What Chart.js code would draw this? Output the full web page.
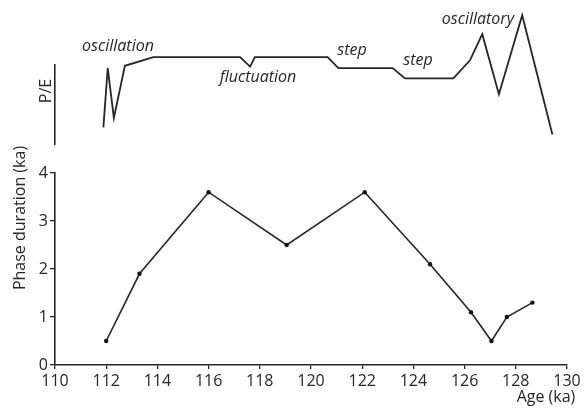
<!DOCTYPE html>
<html>
<head>
<meta charset="utf-8">
<script src="https://cdn.jsdelivr.net/npm/chart.js@4/dist/chart.umd.min.js"></script>
<style>
    html, body { margin: 0; padding: 0; background: #fff; }
    #wrap { position: relative; width: 584px; height: 417px; }
    #wrap canvas { position: absolute; left: 0; top: 0; }
</style>
</head>
<body>
<div id="wrap">
    <canvas id="bottomChart" width="584" height="417"></canvas>
    <canvas id="topChart" width="584" height="417"></canvas>
</div>
<script>
"use strict"

// == data
// lower panel: phase duration per age
const ages = [112.0, 113.3, 116.0, 119.05, 122.1, 124.65, 126.25, 127.05, 127.65, 128.65]
const durations = [0.5, 1.9, 3.6, 2.5, 3.6, 2.1, 1.1, 0.5, 1.0, 1.3]
const ageTicks = [110, 112, 114, 116, 118, 120, 122, 124, 126, 128, 130]
const durationTicks = [0, 1, 2, 3, 4]

// upper panel: P/E curve (arbitrary units, 0 - 10 is the drawn axis)
const peAges = [111.89, 112.06, 112.3, 112.73, 113.84, 117.23, 117.62, 117.81, 120.65,
                121.07, 123.19, 123.67, 125.56, 126.21, 126.69, 127.34, 128.25, 129.43]
const peValues = [2.1, 9.6, 3.3, 9.9, 11.0, 11.0, 9.8, 11.0, 11.0,
                  9.6, 9.6, 8.3, 8.3, 10.6, 13.9, 6.3, 16.3, 1.2]

// labels written along the P/E curve
const noteText = ["oscillation", "fluctuation", "step", "step", "oscillatory"]
const noteAge = [112.46, 117.93, 121.6, 124.18, 126.52]
const notePE = [12.3, 8.4, 11.9, 10.6, 15.8]

const FONT = "'Open Sans', 'DejaVu Sans', sans-serif"
const INK = "#262626"

function toPoints(xs, ys) {
    let pts = []
    for (let i = 0; i < xs.length; i++) {
        pts.push({x: xs[i], y: ys[i]})
    }
    return pts
}

// draws free text; x/y either in data units (age / value) or in pixels
const textMarks = {
    id: 'textMarks',
    afterDraw(chart, args, opts) {
        const ctx = chart.ctx
        const xs = chart.scales.x
        const ys = chart.scales.y
        for (const t of opts.items) {
            let px = (t.age !== undefined) ? xs.getPixelForValue(t.age) : t.px
            let py = (t.val !== undefined) ? ys.getPixelForValue(t.val) : t.py
            ctx.save()
            ctx.translate(px, py)
            if (t.rotate) ctx.rotate(t.rotate)
            ctx.font = (t.style || "") + " " + t.size + "px " + FONT
            ctx.fillStyle = INK
            ctx.textAlign = "center"
            ctx.textBaseline = "middle"
            ctx.fillText(t.text, 0, 0)
            ctx.restore()
        }
    }
}

// lower chart: phase duration
function CreateDurationChart() {
    let ctx = document.getElementById('bottomChart').getContext('2d')
    new Chart(ctx, {
        type: 'line',
        data: {
            datasets: [{
                data: toPoints(ages, durations),
                borderColor: INK,
                borderWidth: 1.6,
                pointRadius: 2.2,
                pointBackgroundColor: "#111",
                pointBorderWidth: 0,
                tension: 0,
                fill: false
            }]
        },
        options: {
            responsive: false,
            animation: false,
            events: [],
            layout: { padding: { left: 0, right: 17, top: 173, bottom: 0 } },
            plugins: {
                legend: { display: false },
                tooltip: { enabled: false },
                textMarks: {
                    items: [
                        { text: "Phase duration (ka)", px: 20, py: 218, size: 16, rotate: -Math.PI / 2 },
                        { text: "Age (ka)", px: 546, py: 397, size: 16 }
                    ]
                }
            },
            scales: {
                x: {
                    type: 'linear',
                    min: ageTicks[0],
                    max: ageTicks[ageTicks.length - 1],
                    afterBuildTicks: (s) => { s.ticks = ageTicks.map(v => ({value: v})) },
                    afterFit: (s) => { s.height = 52 },
                    grid: { drawOnChartArea: false, drawTicks: true, tickLength: 4, color: INK, lineWidth: 1.3 },
                    border: { display: true, color: INK, width: 1.6 },
                    ticks: { color: INK, padding: 3, maxRotation: 0, font: { family: FONT, size: 16 } }
                },
                y: {
                    type: 'linear',
                    min: durationTicks[0],
                    max: durationTicks[durationTicks.length - 1],
                    afterBuildTicks: (s) => { s.ticks = durationTicks.map(v => ({value: v})) },
                    afterFit: (s) => { s.width = 55 },
                    grid: { drawOnChartArea: false, drawTicks: true, tickLength: 5, color: INK, lineWidth: 1.3 },
                    border: { display: true, color: INK, width: 1.6 },
                    ticks: { color: INK, padding: 2, font: { family: FONT, size: 16 } }
                }
            }
        },
        plugins: [textMarks]
    })
}

// upper chart: P/E curve, shares the age range with the lower one
function CreatePEChart() {
    let ctx = document.getElementById('topChart').getContext('2d')
    let notes = []
    for (let i = 0; i < noteText.length; i++) {
        notes.push({ text: noteText[i], age: noteAge[i], val: notePE[i], size: 16, style: "italic" })
    }
    notes.push({ text: "P/E", px: 46, py: 91, size: 16, rotate: -Math.PI / 2 })

    new Chart(ctx, {
        type: 'line',
        data: {
            datasets: [{
                data: toPoints(peAges, peValues),
                borderColor: INK,
                borderWidth: 1.8,
                pointRadius: 0,
                tension: 0,
                fill: false,
                clip: false
            }]
        },
        options: {
            responsive: false,
            animation: false,
            events: [],
            layout: { padding: { left: 0, right: 17, top: 65, bottom: 273 } },
            plugins: {
                legend: { display: false },
                tooltip: { enabled: false },
                textMarks: { items: notes }
            },
            scales: {
                x: {
                    type: 'linear',
                    min: ageTicks[0],
                    max: ageTicks[ageTicks.length - 1],
                    display: false
                },
                y: {
                    type: 'linear',
                    min: 0,
                    max: 10,
                    afterFit: (s) => { s.width = 55 },
                    grid: { display: false },
                    border: { display: true, color: INK, width: 1.6 },
                    ticks: { display: false }
                }
            }
        },
        plugins: [textMarks]
    })
}

CreateDurationChart()
CreatePEChart()
</script>
</body>
</html>
